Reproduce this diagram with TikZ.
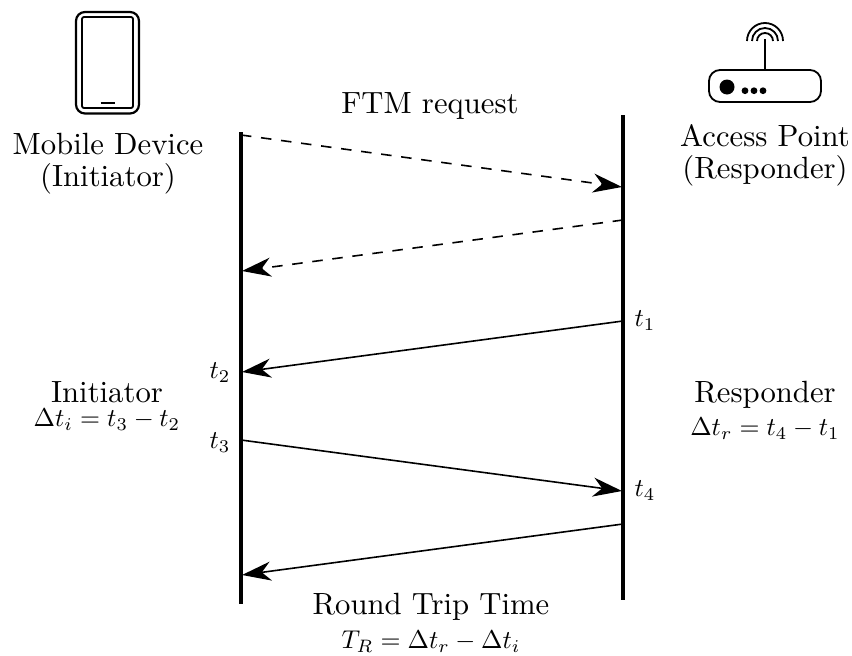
\documentclass[tikz,border=0pt]{standalone}
\usetikzlibrary{arrows.meta}
\tikzset{
 px/.style={x=1pt,y=-1pt},
 lifeline/.style={line width=3.2pt},
 msg/.style={line width=1.6pt,-{Stealth[length=29pt,width=19pt,inset=9pt]}},
 dmsg/.style={msg,dash pattern=on 10.5pt off 9.7pt},
 big/.style={scale=3.07,inner sep=0pt,align=center},
 small/.style={scale=2.57,inner sep=0pt,align=center},
 icon/.style={line width=1.8pt},
}
\begin{document}
\begin{tikzpicture}[px]
\useasboundingbox (0,0) rectangle (852,656);
% phone
\draw[icon,line width=2.2pt,rounded corners=9pt] (76,12) rectangle (139,113.5);
\draw[icon,rounded corners=2pt] (82,17) rectangle (133,108);
\draw[icon,line width=2pt] (100.5,103) -- (115,103);
% router
\draw[icon,rounded corners=11pt] (709,70) rectangle (821,102);
\fill (727,87) circle (7.5pt);
\fill (745,90.7) circle (3.4pt) (754,90.7) circle (3.4pt) (763,90.7) circle (3.4pt);
\draw[icon] (765,70) -- (765,39);
\draw[icon] (757,41) arc (180:0:8pt);
\draw[icon] (752,41) arc (180:0:13pt);
\draw[icon] (747,41) arc (180:0:18pt);
% lifelines
\coordinate (Ltop) at (241,132);
\coordinate (Lbot) at (241,604);
\coordinate (Rtop) at (623,115);
\coordinate (Rbot) at (623,600);
\draw[lifeline] (Ltop) -- (Lbot);
\draw[lifeline] (Rtop) -- (Rbot);
% message ends
\coordinate (a1) at (241,135); \coordinate (a2) at (622,187);
\coordinate (b1) at (623,220); \coordinate (b2) at (242,271);
\coordinate (c1) at (623,321); \coordinate (c2) at (242,372);
\coordinate (d1) at (241,440); \coordinate (d2) at (622,491);
\coordinate (e1) at (623,524); \coordinate (e2) at (242,575);
\draw[dmsg] (a1) -- (a2);
\draw[dmsg] (b1) -- (b2);
\draw[msg] (c1) -- (c2);
\draw[msg] (d1) -- (d2);
\draw[msg] (e1) -- (e2);
% labels
\node[big] (ftm) at (430,106) {FTM request};
\node[big] (mob) at (108,164) {Mobile Device\\[-1.6pt](Initiator)};
\node[big] (ap) at (765,155) {Access Point\\[-1.6pt](Responder)};
\node[big] (ini) at (107,392) {Initiator};
\node[small] (inif) at (107,420) {$\Delta t_i = t_3 - t_2$};
\node[big] (res) at (765,395) {Responder};
\node[small] (resf) at (765,429) {$\Delta t_r = t_4 - t_1$};
\node[big] (rtt) at (431,607) {Round Trip Time};
\node[small] (rttf) at (431,642) {$T_R = \Delta t_r - \Delta t_i$};
\node[small] (t1) at (645,321) {$t_1$};
\node[small] (t2) at (220,373) {$t_2$};
\node[small] (t3) at (220,443) {$t_3$};
\node[small] (t4) at (645,491) {$t_4$};
\end{tikzpicture}
\end{document}
